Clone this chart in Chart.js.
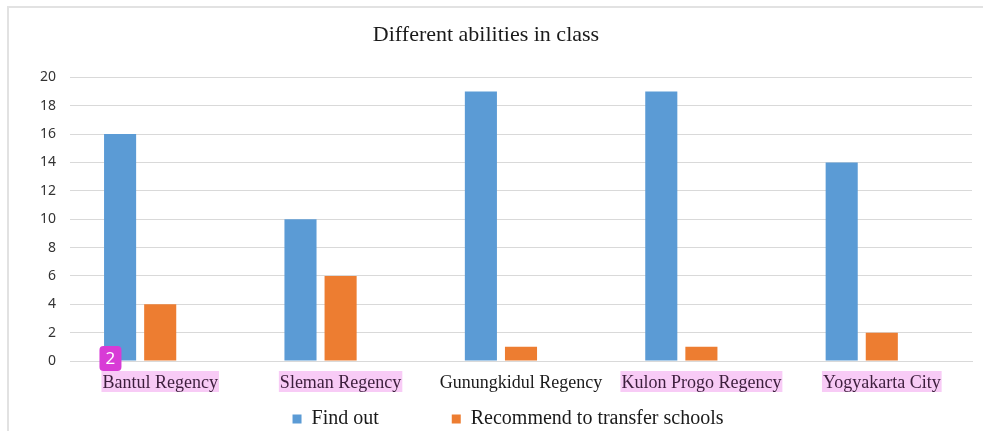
<!DOCTYPE html>
<html>
<head>
<meta charset="utf-8">
<script src="https://cdn.jsdelivr.net/npm/chart.js@4.4.1/dist/chart.umd.min.js"></script>
<style>
html,body{margin:0;padding:0;background:#fff;}
#wrap{width:983px;height:431px;position:relative;}
</style>
</head>
<body>
<div id="wrap"><canvas id="c" width="983" height="431"></canvas></div>
<script>
const categories = ["Bantul Regency", "Sleman Regency", "Gunungkidul Regency", "Kulon Progo Regency", "Yogyakarta City"];
const findOut = [16, 10, 19, 19, 14];
const recommendTransfer = [4, 6, 1, 1, 2];
const highlighted = [true, true, false, true, true];
const yTicks = [0, 2, 4, 6, 8, 10, 12, 14, 16, 18, 20];
const badgeText = "2";

const serif = "'Liberation Serif', 'Times New Roman', serif";
const sans = "'Noto Sans', 'Open Sans', sans-serif";
const LABEL_FONT = 18;
const LEGEND_FONT = 20;
const LEGEND_PAD = 73;

const decor = {
  id: 'decor',
  afterLayout(chart) {
    const lg = chart.legend;
    if (lg) {
      lg.top = 419 - LEGEND_FONT / 2 - LEGEND_PAD;
      lg.bottom = chart.height;
      lg.height = lg.bottom - lg.top;
      lg.left += 22;
      lg.right += 22;
      lg.width = lg.right - lg.left;
    }
  },
  beforeDraw(chart) {
    const ctx = chart.ctx;
    ctx.save();
    ctx.fillStyle = '#ffffff';
    ctx.fillRect(0, 0, chart.width, chart.height);
    ctx.strokeStyle = '#e2e2e2';
    ctx.lineWidth = 2;
    ctx.beginPath();
    ctx.moveTo(8, chart.height);
    ctx.lineTo(8, 7);
    ctx.lineTo(chart.width, 7);
    ctx.stroke();
    const xs = chart.scales.x;
    ctx.font = LABEL_FONT + "px " + serif;
    categories.forEach((lab, i) => {
      if (!highlighted[i]) return;
      const w = ctx.measureText(lab).width;
      const cx = xs.getPixelForTick(i);
      ctx.fillStyle = '#f8cbf6';
      ctx.fillRect(cx - w / 2 - 1, xs.top + 10, w + 2, 21);
    });
    ctx.restore();
  },
  afterDraw(chart) {
    const ctx = chart.ctx;
    const xs = chart.scales.x;
    ctx.save();
    ctx.font = LABEL_FONT + "px " + serif;
    const w = ctx.measureText(categories[0]).width;
    const bx = xs.getPixelForTick(0) - w / 2 - 3, by = xs.top - 15, bw = 22, bh = 25, r = 4;
    ctx.fillStyle = '#d83bd6';
    ctx.beginPath();
    ctx.moveTo(bx + r, by);
    ctx.arcTo(bx + bw, by, bx + bw, by + bh, r);
    ctx.arcTo(bx + bw, by + bh, bx, by + bh, r);
    ctx.arcTo(bx, by + bh, bx, by, r);
    ctx.arcTo(bx, by, bx + bw, by, r);
    ctx.closePath();
    ctx.fill();
    ctx.fillStyle = '#ffffff';
    ctx.font = "17px " + sans;
    ctx.textAlign = 'center';
    ctx.textBaseline = 'middle';
    ctx.fillText(badgeText, bx + bw / 2, by + bh / 2 + 1);
    ctx.restore();
  }
};

new Chart(document.getElementById('c'), {
  type: 'bar',
  data: {
    labels: categories,
    datasets: [
      { label: 'Find out', data: findOut, backgroundColor: '#5B9BD5' },
      { label: 'Recommend to transfer schools', data: recommendTransfer, backgroundColor: '#ED7D31' },
      { label: '', data: [], backgroundColor: 'rgba(0,0,0,0)' }
    ]
  },
  options: {
    responsive: false,
    animation: false,
    devicePixelRatio: 1,
    datasets: { bar: { categoryPercentage: 0.667, barPercentage: 0.8 } },
    layout: { padding: { top: 14, right: 11, bottom: 2, left: 0 } },
    plugins: {
      title: {
        display: true,
        text: 'Different abilities in class',
        color: '#1a1a1a',
        font: { family: serif, size: 22, weight: 'normal' },
        padding: { top: 8, bottom: 29 }
      },
      legend: {
        position: 'bottom',
        maxHeight: 30,
        labels: {
          filter: (item) => item.text !== '',
          color: '#1a1a1a',
          font: { family: serif, size: LEGEND_FONT },
          boxWidth: 9,
          boxHeight: 9,
          padding: LEGEND_PAD
        }
      },
      tooltip: { enabled: false }
    },
    scales: {
      x: {
        afterFit(scale) { scale.height = 38; },
        grid: { display: false, drawTicks: false },
        border: { color: '#d9d9d9', width: 1 },
        ticks: {
          color: (c) => highlighted[c.index] ? '#3c1e3c' : '#1a1a1a',
          font: { family: serif, size: LABEL_FONT },
          padding: 11,
          maxRotation: 0,
          autoSkip: false
        }
      },
      y: {
        min: 0,
        max: 20,
        afterFit(scale) { scale.width = 70; },
        afterBuildTicks(scale) { scale.ticks = yTicks.map(v => ({ value: v })); },
        grid: { color: '#d9d9d9', lineWidth: 1, drawTicks: false },
        border: { display: false },
        ticks: {
          color: '#333333',
          font: { family: sans, size: 14 },
          padding: 14
        }
      }
    }
  },
  plugins: [decor]
});
</script>
</body>
</html>
